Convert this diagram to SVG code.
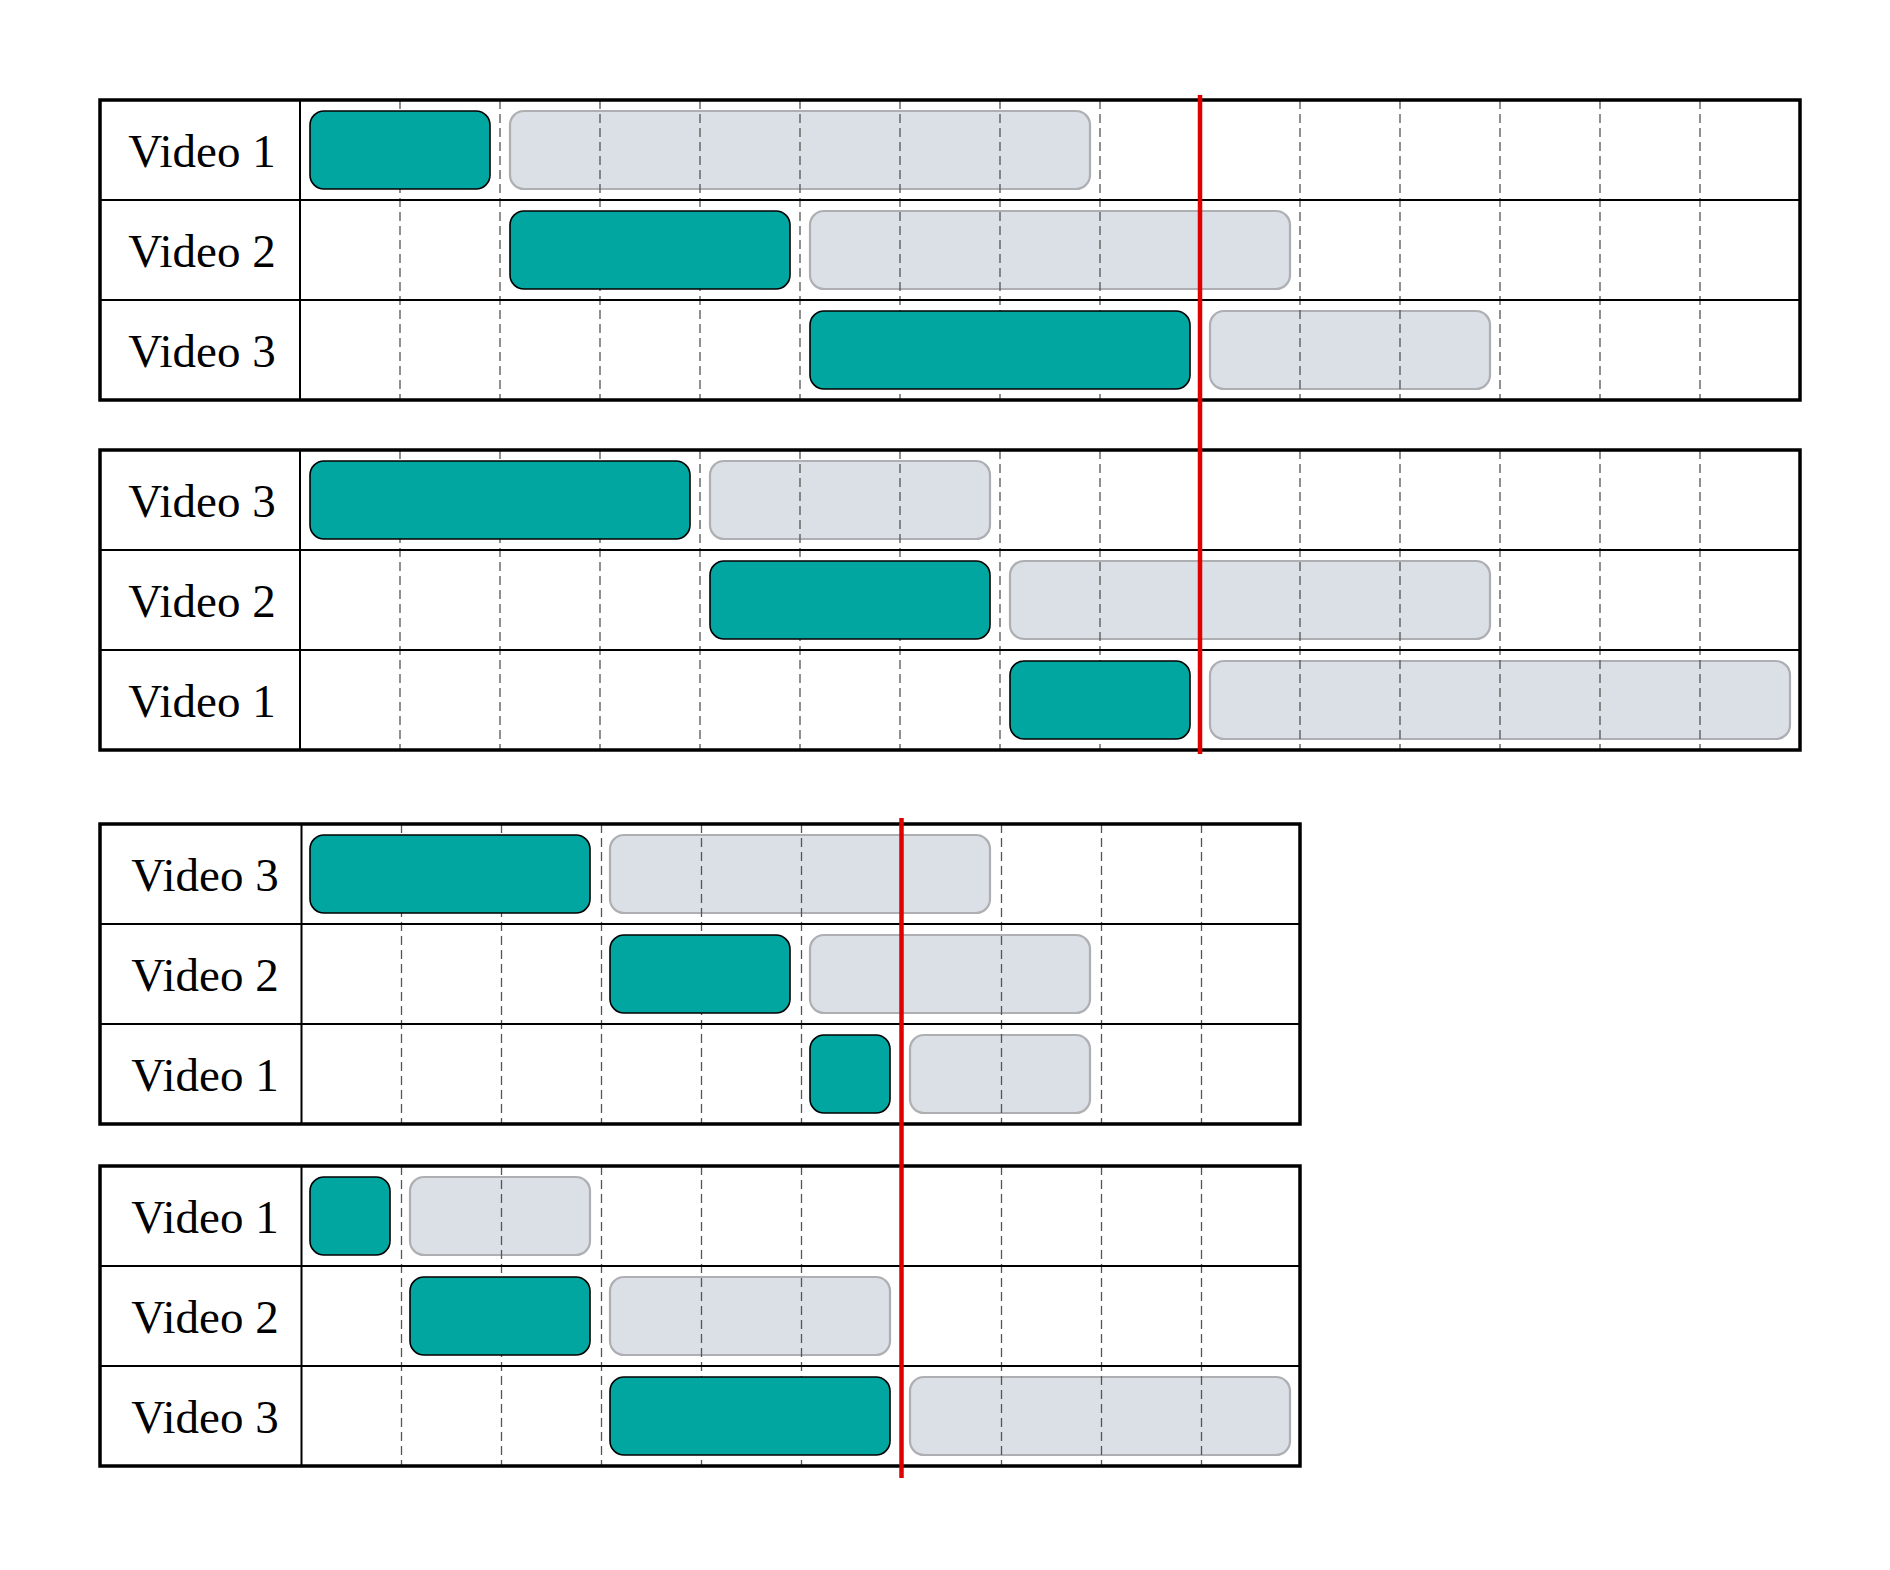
<svg xmlns="http://www.w3.org/2000/svg" width="1890" height="1570" viewBox="0 0 1890 1570">
<style>
.lbl{font-family:"Liberation Serif","Times New Roman",serif;font-size:47px;fill:#000;text-anchor:middle}
.teal{fill:#01A6A0;stroke:#000;stroke-width:1.6}
.gray{fill:#DBDFE6;stroke:#ADAFB2;stroke-width:2.2}
.dash{stroke:#555;stroke-width:1.3;stroke-dasharray:9 5;fill:none}
.frame{fill:none;stroke:#000;stroke-width:3.5}
.rowline{stroke:#000;stroke-width:2;fill:none}
.red{stroke:#E00000;stroke-width:4.5;fill:none}
</style>
<rect width="1890" height="1570" fill="#fff"/>

<!-- Panel 1 -->
<g id="panel1">
  <g id="p1-gray">
    <rect class="gray" x="510" y="111" width="580" height="78" rx="14"/>
    <rect class="gray" x="810" y="211" width="480" height="78" rx="14"/>
    <rect class="gray" x="1210" y="311" width="280" height="78" rx="14"/>
  </g>
  <g id="p1-grid" class="dash">
    <path d="M400 100V400M500 100V400M600 100V400M700 100V400M800 100V400M900 100V400M1000 100V400M1100 100V400M1200 100V400M1300 100V400M1400 100V400M1500 100V400M1600 100V400M1700 100V400"/>
  </g>
  <g id="p1-row1"><text class="lbl" x="202" y="167">Video 1</text><rect class="teal" x="310" y="111" width="180" height="78" rx="14"/></g>
  <g id="p1-row2"><text class="lbl" x="202" y="267">Video 2</text><rect class="teal" x="510" y="211" width="280" height="78" rx="14"/></g>
  <g id="p1-row3"><text class="lbl" x="202" y="367">Video 3</text><rect class="teal" x="810" y="311" width="380" height="78" rx="14"/></g>
  <path class="rowline" d="M100 200H1800M100 300H1800M300 100V400"/>
  <rect class="frame" x="100" y="100" width="1700" height="300"/>
</g>

<!-- Panel 2 -->
<g id="panel2">
  <g id="p2-gray">
    <rect class="gray" x="710" y="461" width="280" height="78" rx="14"/>
    <rect class="gray" x="1010" y="561" width="480" height="78" rx="14"/>
    <rect class="gray" x="1210" y="661" width="580" height="78" rx="14"/>
  </g>
  <g id="p2-grid" class="dash">
    <path d="M400 450V750M500 450V750M600 450V750M700 450V750M800 450V750M900 450V750M1000 450V750M1100 450V750M1200 450V750M1300 450V750M1400 450V750M1500 450V750M1600 450V750M1700 450V750"/>
  </g>
  <g id="p2-row1"><text class="lbl" x="202" y="517">Video 3</text><rect class="teal" x="310" y="461" width="380" height="78" rx="14"/></g>
  <g id="p2-row2"><text class="lbl" x="202" y="617">Video 2</text><rect class="teal" x="710" y="561" width="280" height="78" rx="14"/></g>
  <g id="p2-row3"><text class="lbl" x="202" y="717">Video 1</text><rect class="teal" x="1010" y="661" width="180" height="78" rx="14"/></g>
  <path class="rowline" d="M100 550H1800M100 650H1800M300 450V750"/>
  <rect class="frame" x="100" y="450" width="1700" height="300"/>
</g>

<!-- Panel 3 -->
<g id="panel3">
  <g id="p3-gray">
    <rect class="gray" x="610" y="835" width="380" height="78" rx="14"/>
    <rect class="gray" x="810" y="935" width="280" height="78" rx="14"/>
    <rect class="gray" x="910" y="1035" width="180" height="78" rx="14"/>
  </g>
  <g id="p3-grid" class="dash">
    <path d="M401.5 824V1124M501.5 824V1124M601.5 824V1124M701.5 824V1124M801.5 824V1124M901.5 824V1124M1001.5 824V1124M1101.5 824V1124M1201.5 824V1124"/>
  </g>
  <g id="p3-row1"><text class="lbl" x="205" y="891">Video 3</text><rect class="teal" x="310" y="835" width="280" height="78" rx="14"/></g>
  <g id="p3-row2"><text class="lbl" x="205" y="991">Video 2</text><rect class="teal" x="610" y="935" width="180" height="78" rx="14"/></g>
  <g id="p3-row3"><text class="lbl" x="205" y="1091">Video 1</text><rect class="teal" x="810" y="1035" width="80" height="78" rx="14"/></g>
  <path class="rowline" d="M100 924H1300M100 1024H1300M301.5 824V1124"/>
  <rect class="frame" x="100" y="824" width="1200" height="300"/>
</g>

<!-- Panel 4 -->
<g id="panel4">
  <g id="p4-gray">
    <rect class="gray" x="410" y="1177" width="180" height="78" rx="14"/>
    <rect class="gray" x="610" y="1277" width="280" height="78" rx="14"/>
    <rect class="gray" x="910" y="1377" width="380" height="78" rx="14"/>
  </g>
  <g id="p4-grid" class="dash">
    <path d="M401.5 1166V1466M501.5 1166V1466M601.5 1166V1466M701.5 1166V1466M801.5 1166V1466M901.5 1166V1466M1001.5 1166V1466M1101.5 1166V1466M1201.5 1166V1466"/>
  </g>
  <g id="p4-row1"><text class="lbl" x="205" y="1233">Video 1</text><rect class="teal" x="310" y="1177" width="80" height="78" rx="14"/></g>
  <g id="p4-row2"><text class="lbl" x="205" y="1333">Video 2</text><rect class="teal" x="410" y="1277" width="180" height="78" rx="14"/></g>
  <g id="p4-row3"><text class="lbl" x="205" y="1433">Video 3</text><rect class="teal" x="610" y="1377" width="280" height="78" rx="14"/></g>
  <path class="rowline" d="M100 1266H1300M100 1366H1300M301.5 1166V1466"/>
  <rect class="frame" x="100" y="1166" width="1200" height="300"/>
</g>

<g id="connectors">
  <line class="red" x1="1200" y1="95" x2="1200" y2="754"/>
  <line class="red" x1="901.5" y1="818" x2="901.5" y2="1478"/>
</g>
</svg>
